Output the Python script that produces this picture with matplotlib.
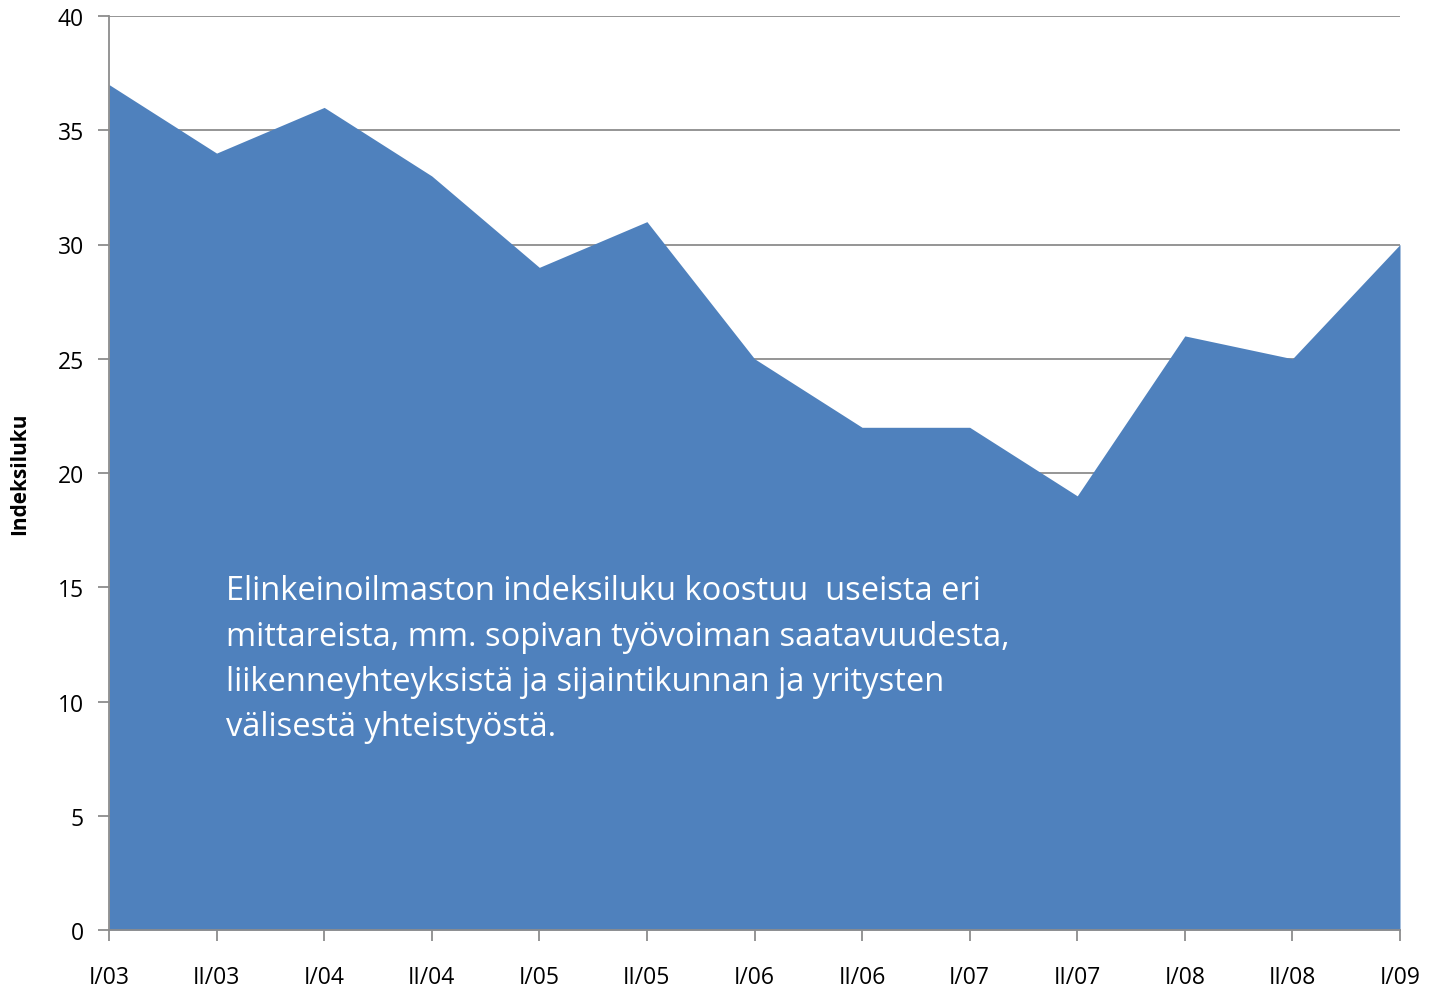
import matplotlib.pyplot as plt
import numpy as np

periods = ['I/03', 'II/03', 'I/04', 'II/04', 'I/05', 'II/05', 'I/06',
           'II/06', 'I/07', 'II/07', 'I/08', 'II/08', 'I/09']
index_values = [37, 34, 36, 33, 29, 31, 25, 22, 22, 19, 26, 25, 30]

note = ('Elinkeinoilmaston indeksiluku koostuu  useista eri\n'
        'mittareista, mm. sopivan työvoiman saatavuudesta,\n'
        'liikenneyhteyksistä ja sijaintikunnan ja yritysten\n'
        'välisestä yhteistyöstä.')

plt.rcParams['font.family'] = ['Open Sans', 'DejaVu Sans']

fig = plt.figure(figsize=(14.35, 9.87), dpi=100)
ax = fig.add_axes([109/1435, 1-931/987, (1400-109)/1435, (931-17)/987])

x = np.arange(len(periods))
ax.fill_between(x, 0, index_values, color='#4F81BD', lw=0, zorder=2)

ax.set_xlim(0, len(periods)-1)
ax.set_ylim(0, 40)
ax.set_yticks(range(0, 41, 5))
ax.set_xticks(x)
ax.set_xticklabels(periods)
ax.yaxis.grid(True, color='#8c8c8c', lw=1.3, zorder=1)
ax.set_axisbelow(True)

for s in ['top', 'right']:
    ax.spines[s].set_visible(False)
for s in ['left', 'bottom']:
    ax.spines[s].set_color('#8c8c8c')
    ax.spines[s].set_linewidth(1.3)
    ax.spines[s].set_zorder(3)

ax.tick_params(axis='y', length=8, width=1.3, color='#8c8c8c', labelsize=16.5, pad=10)
ax.tick_params(axis='x', length=8, width=1.3, color='#8c8c8c', labelsize=16.5, pad=17)
ax.set_ylabel('Indeksiluku', fontsize=15, fontweight='bold', labelpad=20)

fig.text(226/1435, 1-575/987, note, fontsize=23.5, color='white',
         va='top', ha='left', linespacing=1.5, zorder=5)

plt.savefig('out.png')
